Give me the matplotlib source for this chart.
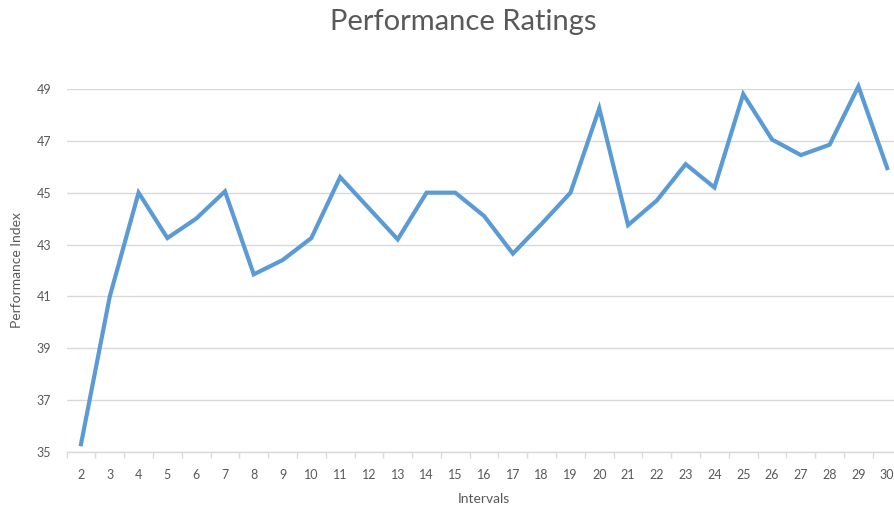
import matplotlib.pyplot as plt
import numpy as np

# data
intervals = list(range(2, 31))
performance = [35.3, 41.0, 45.0, 43.25, 44.0, 45.05, 41.85, 42.4, 43.25, 45.6,
               44.4, 43.2, 45.0, 45.0, 44.1, 42.65, 43.8, 45.0, 48.25, 43.75,
               44.7, 46.1, 45.2, 48.8, 47.05, 46.45, 46.85, 49.1, 45.95]
y_ticks = [35, 37, 39, 41, 43, 45, 47, 49]

plt.rcParams['font.family'] = ['Lato', 'DejaVu Sans']
txt = '#595959'
grid = '#d9d9d9'

fig = plt.figure(figsize=(8.94, 5.11), dpi=100)
ax = fig.add_axes([0.0745, 0.1155, 0.934, 0.7104])

ax.plot(intervals, performance, color='#5b9bd5', lw=3.0, solid_joinstyle='miter',
        clip_on=False, zorder=3)

ax.set_xlim(1.5, 30.5)
ax.set_ylim(35, 49)
ax.set_yticks(y_ticks)
ax.set_xticks(intervals)
ax.set_xticks(np.arange(1.5, 31, 1), minor=True)
ax.yaxis.grid(True, color=grid, lw=1)
ax.set_axisbelow(True)

for s in ['top', 'right', 'left']:
    ax.spines[s].set_visible(False)
ax.spines['bottom'].set_color(grid)
ax.spines['bottom'].set_linewidth(1)

ax.tick_params(axis='y', length=0, pad=11, labelsize=9, labelcolor=txt)
ax.tick_params(axis='x', which='major', length=0, pad=12, labelsize=9, labelcolor=txt)
ax.tick_params(axis='x', which='minor', length=4, color=grid, width=1)

ax.set_xlabel('Intervals', fontsize=10, color=txt, labelpad=9)
ax.set_ylabel('Performance Index', fontsize=10, color=txt, labelpad=10)
fig.text(0.518, 0.957, 'Performance Ratings', ha='center', va='center',
         fontsize=21, color=txt)

fig.savefig('out.png', dpi=100)
